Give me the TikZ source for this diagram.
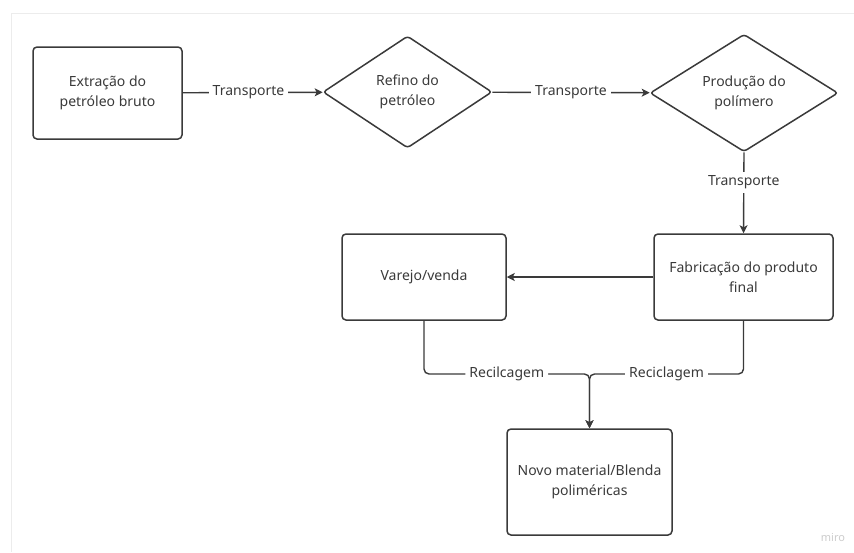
\documentclass[tikz,border=0pt]{standalone}
\usepackage{fontspec}
\setmainfont{Noto Sans}
\usetikzlibrary{shapes.geometric}
\usetikzlibrary{arrows.meta}

\definecolor{ink}{HTML}{3A3A3A}
\definecolor{frame}{HTML}{ECECEC}

\begin{document}
\begin{tikzpicture}[x=1pt,y=-1pt,
    font=\fontsize{14}{20}\selectfont, text=ink,
    step box/.style={draw=ink, line width=1.5pt, fill=white, rectangle, rounded corners=4pt, align=center, inner sep=0pt},
    choice/.style={draw=ink, line width=1.5pt, fill=white, diamond, rounded corners=3pt, align=center, inner sep=0pt},
    flow/.style={draw=ink, line width=1.4pt, -{Stealth[length=8pt,width=8pt,inset=2pt]}},
    tag/.style={fill=white, inner sep=4pt, text=ink}]
\useasboundingbox (0,0) rectangle (854,552);
\draw[frame, line width=1pt] (11,552) -- (11,13) -- (854,13);

\node[step box, minimum width=149pt, minimum height=92pt] (extracao) at (107.5,93) {Extração do\\petróleo bruto};
\node[choice, minimum width=169pt, minimum height=112pt] (refino) at (407.5,92) {Refino do\\petróleo};
\node[choice, minimum width=188pt, minimum height=104pt] (polimero) at (744,93) {Produção do\\polímero};
\node[step box, minimum width=179pt, minimum height=86pt] (fabricacao) at (743.5,277) {Fabricação do produto\\final};
\node[step box, minimum width=164pt, minimum height=86pt] (varejo) at (424,277) {Varejo/venda};
\node[step box, minimum width=165pt, minimum height=106pt] (novo) at (589.5,482) {Novo material/Blenda\\poliméricas};
\coordinate (juncao) at (589.5,374);

\draw[flow] (extracao) -- node[tag, pos=0.47]{Transporte} (refino);
\draw[flow] (refino) -- node[tag]{Transporte} (polimero);
\draw[flow] (polimero.south) -- node[tag, pos=0.37]{Transporte} (fabricacao.north);
\draw[flow] (fabricacao) -- (varejo);
\draw[flow, rounded corners=5pt] (varejo.south) |- node[tag, pos=0.75]{Recilcagem} (juncao) -- (novo.north);
\draw[flow, rounded corners=5pt] (fabricacao.south) |- node[tag, pos=0.75]{Reciclagem} (juncao) -- (novo.north);

\node[text=black!20, font=\fontsize{11}{13}\selectfont] (miro) at (833,537) {miro};
\end{tikzpicture}
\end{document}
